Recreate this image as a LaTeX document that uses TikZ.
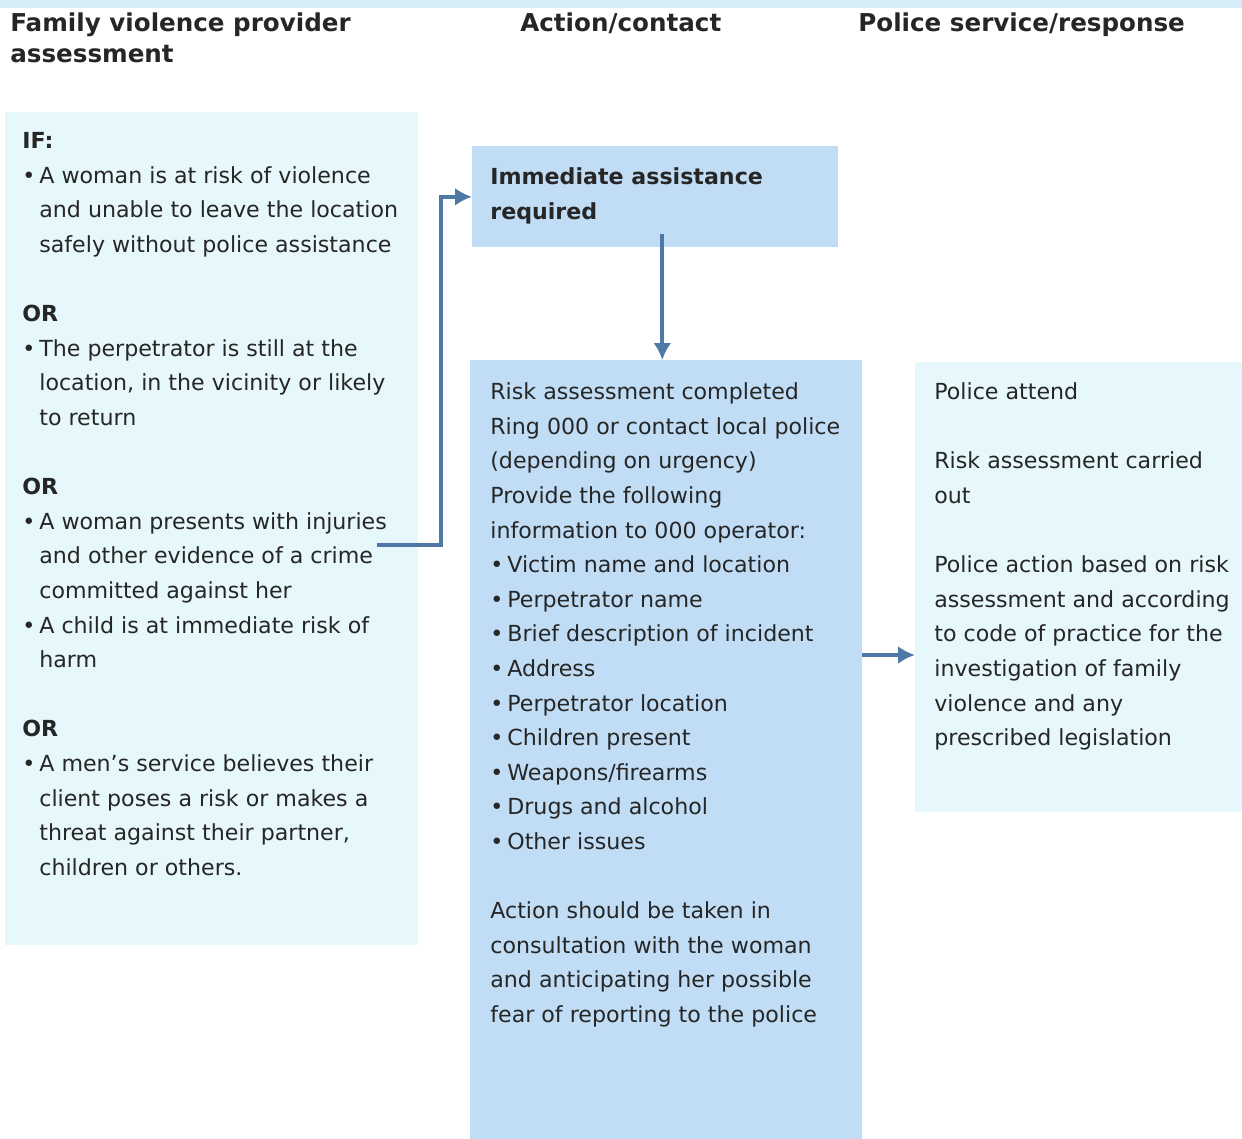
\documentclass[tikz,border=0pt]{standalone}
\usepackage{fontspec}
\setmainfont{DejaVu Sans}
\usepackage{tikz}
\usetikzlibrary{arrows.meta, positioning, calc}

\definecolor{bandblue}{HTML}{D6EDF8}
\definecolor{paleblue}{HTML}{E7F8FC}
\definecolor{midblue}{HTML}{C0DDF5}
\definecolor{arrowblue}{HTML}{4E79A7}

\newcommand{\bl}{\makebox[0.34cm][l]{\textbullet}}
\newcommand{\ind}{\hspace*{0.34cm}}

\begin{document}
\begin{tikzpicture}[x=0.02cm, y=-0.02cm]
	\tikzstyle{panel}=[rectangle, inner sep=0pt, anchor=north west]
	\tikzstyle{pale}=[panel, fill=paleblue]
	\tikzstyle{mid}=[panel, fill=midblue]
	\tikzstyle{head}=[anchor=north west, inner sep=0pt, align=left,
		font=\fontsize{14}{17.6}\selectfont\bfseries, text=black!85]
	\tikzstyle{body}=[anchor=north west, inner sep=0pt, align=left,
		font=\fontsize{12.6}{19.7}\selectfont, text=black!85]
	\tikzstyle{flow}=[->, >={Latex[length=0.34cm, width=0.36cm]},
		line width=2.2pt, draw=arrowblue]

	\useasboundingbox (0,0) rectangle (1242,1139);
	\fill[bandblue] (0,0) rectangle (1242,8);

	% column headings
	\node[head] (hfam) at (10,10) {\strut Family violence provider\\assessment};
	\node[head] (hact) at (520,10) {\strut Action/contact};
	\node[head] (hpol) at (858,10) {\strut Police service/response};

	% panels
	\node[pale, minimum width=8.26cm, minimum height=16.66cm] (ifbox) at (5,112) {};
	\node[mid, minimum width=7.32cm, minimum height=2.02cm] (imm) at (472,146) {};
	\node[mid, minimum width=7.84cm, minimum height=15.58cm] (risk) at (470,360) {};
	\node[pale, minimum width=6.54cm, minimum height=9cm] (police) at (915,362) {};

	\node[body] (iftxt) at (22,124) {
		\strut\textbf{IF:}\\
		\bl A woman is at risk of violence\\
		\ind and unable to leave the location\\
		\ind safely without police assistance\\[\baselineskip]
		\textbf{OR}\\
		\bl The perpetrator is still at the\\
		\ind location, in the vicinity or likely\\
		\ind to return\\[\baselineskip]
		\textbf{OR}\\
		\bl A woman presents with injuries\\
		\ind and other evidence of a crime\\
		\ind committed against her\\
		\bl A child is at immediate risk of\\
		\ind harm\\[\baselineskip]
		\textbf{OR}\\
		\bl A men’s service believes their\\
		\ind client poses a risk or makes a\\
		\ind threat against their partner,\\
		\ind children or others.
	};

	\node[body] (immtxt) at (490,160) {
		\strut\textbf{Immediate assistance}\\
		\textbf{required}
	};

	\node[body] (risktxt) at (490,375) {
		\strut Risk assessment completed\\
		Ring 000 or contact local police\\
		(depending on urgency)\\
		Provide the following\\
		information to 000 operator:\\
		\bl Victim name and location\\
		\bl Perpetrator name\\
		\bl Brief description of incident\\
		\bl Address\\
		\bl Perpetrator location\\
		\bl Children present\\
		\bl Weapons/firearms\\
		\bl Drugs and alcohol\\
		\bl Other issues\\[\baselineskip]
		Action should be taken in\\
		consultation with the woman\\
		and anticipating her possible\\
		fear of reporting to the police
	};

	\node[body] (policetxt) at (934,375) {
		\strut Police attend\\[\baselineskip]
		Risk assessment carried\\
		out\\[\baselineskip]
		Police action based on risk\\
		assessment and according\\
		to code of practice for the\\
		investigation of family\\
		violence and any\\
		prescribed legislation
	};

	% connectors
	\coordinate (crime) at (377,545);
	\coordinate (bend) at (441,545);
	\coordinate (tell) at (862,655);

	\draw[flow] (crime) -- (bend) |- (imm.west);
	\draw[flow] ([xshift=0.14cm, yshift=0.28cm]imm.south) --
		([xshift=0.14cm]imm.south |- risk.north);
	\draw[flow] (tell) -- (tell -| police.west);
\end{tikzpicture}
\end{document}
